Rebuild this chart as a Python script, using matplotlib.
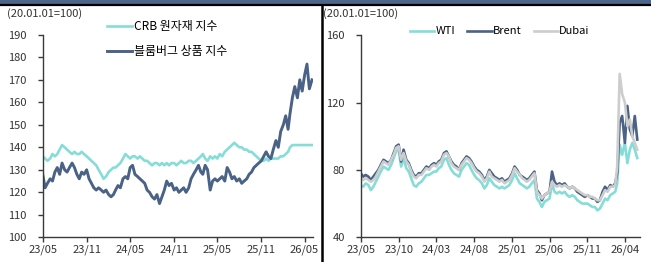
import numpy as np
import pandas as pd
import matplotlib
matplotlib.use('Agg')
import matplotlib.pyplot as plt
import matplotlib.dates as mdates
from matplotlib.lines import Line2D
from matplotlib.patches import Rectangle

plt.rcParams['font.family'] = ['Noto Sans CJK KR', 'DejaVu Sans']

#
# data (3 readings per month: day 1, 11, 21)
#
days = [1, 11, 21]

# left panel : 2023/05 .. 2026/06
crb = [136, 135, 134, 135, 137, 136, 137, 139, 141, 140, 139, 138,
       137, 138, 137, 137, 138, 137, 136, 135, 134, 133, 132, 130,
       128, 126, 127, 129, 130, 131, 131, 132, 133, 135, 137, 136,
       135, 136, 136, 135, 136, 135, 134, 134, 133, 132, 133, 133,
       132, 133, 132, 133, 132, 133, 133, 132, 133, 134, 133, 133,
       134, 134, 133, 134, 135, 136, 137, 135, 134, 136, 135, 136,
       135, 137, 136, 138, 139, 140, 141, 142, 141, 140, 140, 139,
       139, 138, 138, 137, 136, 135, 134, 134, 135, 134, 135, 135,
       135, 135, 136, 136, 137, 138, 140, 141, 141, 141, 141, 141,
       141, 141, 141, 141]
bbg = [128, 122, 124, 126, 125, 129, 131, 128, 133, 130, 129, 131,
       133, 131, 128, 126, 129, 128, 130, 126, 124, 122, 121, 122,
       121, 120, 121, 119, 118, 119, 121, 123, 122, 126, 127, 126,
       131, 132, 128, 127, 126, 125, 124, 121, 120, 118, 117, 119,
       115, 118, 121, 125, 123, 124, 121, 122, 120, 121, 122, 120,
       122, 126, 128, 130, 132, 129, 128, 132, 130, 121, 125, 126,
       125, 126, 127, 125, 131, 129, 126, 127, 125, 126, 124, 125,
       126, 128, 129, 131, 132, 133, 134, 136, 138, 136, 135, 139,
       143, 140, 147, 150, 154, 148, 155, 162, 167, 162, 170, 165,
       172, 177, 166, 170]

# right panel : 2023/05 .. 2026/05
wti = [71, 70, 72, 71, 68, 70, 73, 76, 79, 82, 81, 80,
       83, 87, 91, 92, 82, 87, 81, 79, 75, 71, 70, 72,
       73, 75, 77, 77, 78, 79, 79, 81, 82, 86, 87, 83,
       80, 78, 77, 76, 80, 82, 84, 83, 80, 77, 75, 74,
       72, 69, 71, 75, 73, 71, 70, 69, 70, 69, 70, 71,
       74, 78, 75, 72, 71, 70, 69, 70, 72, 74, 63, 61,
       58, 61, 62, 63, 72, 67, 66, 67, 66, 67, 65, 64,
       65, 64, 62, 61, 60, 60, 60, 59, 58, 58, 56, 57,
       60, 63, 62, 65, 66, 67, 72, 95, 89, 96, 84, 92,
       96, 92, 87]
brent = [78, 76, 77, 76, 74, 76, 78, 80, 83, 86, 85, 84,
         86, 90, 94, 95, 85, 92, 86, 84, 80, 77, 76, 78,
         78, 80, 82, 81, 83, 84, 83, 85, 86, 90, 91, 88,
         85, 83, 82, 80, 84, 86, 88, 87, 85, 82, 80, 79,
         77, 74, 76, 80, 78, 76, 75, 74, 75, 73, 74, 75,
         78, 82, 80, 77, 76, 75, 74, 75, 77, 79, 68, 66,
         62, 65, 66, 67, 79, 73, 71, 72, 71, 72, 70, 69,
         70, 69, 67, 66, 65, 64, 65, 64, 63, 63, 61, 62,
         67, 70, 68, 71, 70, 72, 78, 108, 112, 96, 118, 104,
         100, 112, 98]
dubai = [75, 74, 75, 74, 73, 74, 76, 79, 82, 85, 84, 83,
         86, 89, 93, 94, 86, 90, 85, 83, 79, 76, 75, 77,
         77, 79, 81, 80, 82, 83, 82, 84, 85, 89, 90, 88,
         84, 82, 81, 80, 83, 85, 87, 86, 84, 81, 79, 78,
         76, 73, 75, 79, 76, 75, 74, 73, 74, 72, 73, 74,
         77, 81, 79, 77, 75, 74, 73, 74, 76, 78, 67, 65,
         63, 65, 66, 67, 73, 71, 70, 71, 70, 71, 70, 69,
         70, 69, 68, 67, 66, 65, 65, 64, 64, 63, 62, 62,
         65, 68, 67, 70, 70, 71, 82, 137, 125, 120, 106, 110,
         100, 96, 92]

left_labels = ['CRB 원자재 지수', '블룸버그 상품 지수']
right_labels = ['WTI', 'Brent', 'Dubai']
unit_text = '(20.01.01=100)'

c_teal = '#86ddd8'
c_navy = '#4a6285'
c_gray = '#cdcdcd'
c_axis = '#3a3a3a'


def make_dates(n):
    months = pd.date_range('2023-05-01', periods=n // 3 + 1, freq='MS')
    out = [m + pd.Timedelta(days=d - 1) for m in months for d in days]
    return out[:n]


def style_axis(ax):
    for s in ['top', 'right']:
        ax.spines[s].set_visible(False)
    for s in ['left', 'bottom']:
        ax.spines[s].set_color(c_axis)
        ax.spines[s].set_linewidth(1.0)
    ax.tick_params(axis='both', direction='out', length=3.5, width=1.0,
                   color=c_axis, labelcolor='#333333', labelsize=8)
    ax.tick_params(axis='y', pad=8)
    ax.tick_params(axis='x', pad=2)
    ax.xaxis.set_major_formatter(mdates.DateFormatter('%y/%m'))


def main():
    fig = plt.figure(figsize=(6.51, 2.62), dpi=100)
    #
    # frame decorations
    #
    fig.patches.append(Rectangle((0, 1 - 3.5 / 262), 1, 3.5 / 262, transform=fig.transFigure,
                                 facecolor='#4d6588', edgecolor='none'))
    fig.add_artist(Line2D([0, 1], [1 - 4.5 / 262, 1 - 4.5 / 262], transform=fig.transFigure,
                          color='black', lw=1.6))
    fig.add_artist(Line2D([322 / 651, 322 / 651], [0, 1 - 4.5 / 262], transform=fig.transFigure,
                          color='black', lw=1.8))
    #
    # left panel
    #
    axl = fig.add_axes([42.7 / 651, 0.0943, (312.7 - 42.7) / 651, 0.867 - 0.0943])
    dl = make_dates(len(crb))
    axl.plot(dl, crb, color=c_teal, lw=1.9, label=left_labels[0])
    axl.plot(dl, bbg, color=c_navy, lw=2.1, label=left_labels[1])
    axl.set_ylim(100, 190)
    axl.set_yticks(np.arange(100, 191, 10))
    axl.set_xlim(pd.Timestamp('2023-05-01'), pd.Timestamp('2026-06-04'))
    axl.set_xticks(pd.date_range('2023-05-01', '2026-05-01', freq='6MS'))
    style_axis(axl)
    axl.legend(loc='upper left', bbox_to_anchor=(0.22, 1.095), frameon=False, fontsize=8.6,
               handlelength=2.1, handletextpad=0.15, labelspacing=0.95, borderaxespad=0)
    fig.text(7 / 651, 1 - 14 / 262, unit_text, fontsize=8, color='#333333', va='center')
    #
    # right panel
    #
    axr = fig.add_axes([360.7 / 651, 0.0943, (640 - 360.7) / 651, 0.866 - 0.0943])
    dr = make_dates(len(wti))
    axr.plot(dr, wti, color=c_teal, lw=1.9, label=right_labels[0])
    axr.plot(dr, brent, color=c_navy, lw=1.9, label=right_labels[1])
    axr.plot(dr, dubai, color=c_gray, lw=1.9, label=right_labels[2])
    axr.set_ylim(40, 160)
    axr.set_yticks([40, 80, 120, 160])
    axr.set_xlim(pd.Timestamp('2023-05-01'), pd.Timestamp('2026-06-01'))
    axr.set_xticks(pd.date_range('2023-05-01', '2026-04-01', freq='5MS'))
    style_axis(axr)
    axr.legend(loc='upper left', bbox_to_anchor=(0.16, 1.065), frameon=False, fontsize=8, ncol=3,
               handlelength=2.2, handletextpad=0.1, columnspacing=1.1, borderaxespad=0)
    fig.text(323 / 651, 1 - 14 / 262, unit_text, fontsize=8, color='#333333', va='center')
    #
    fig.savefig('out.png', dpi=100)
    plt.close()


if __name__ == "__main__":
    main()
